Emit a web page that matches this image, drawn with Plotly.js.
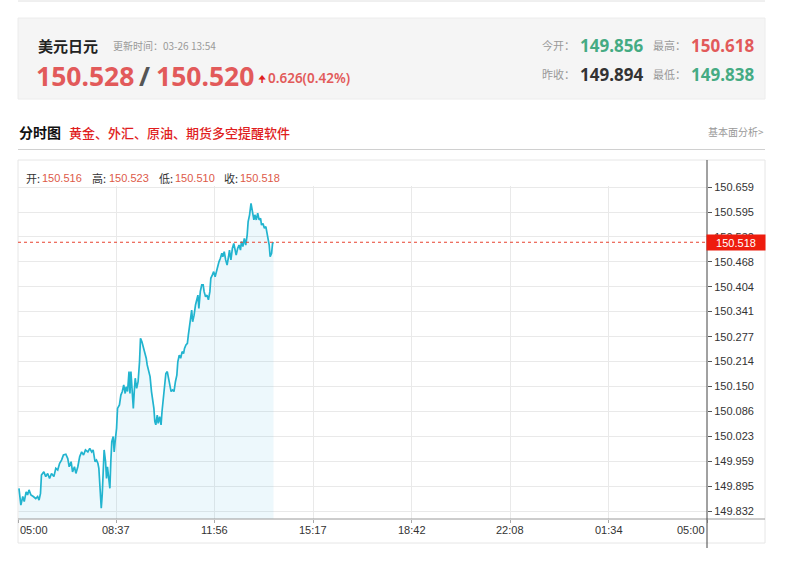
<!DOCTYPE html>
<html>
<head>
<meta charset="utf-8">
<script src="https://cdn.plot.ly/plotly-3.0.1.min.js"></script>
<style>
html,body{margin:0;padding:0;background:#fff;}
#chart{width:800px;height:566px;}
</style>
</head>
<body>
<div id="chart"></div>
<script>
// ---- data (minutes after 05:00, price) ----
const minutes = [2,6,10,13,17,20,23,27,32,37,41,44,47,49,54,58,62,66,70,75,79,83,87,91,95,100,104,107,111,114,118,121,125,129,133,137,141,146,150,154,157,161,164,167,169,172,174,176,178,180,183,185,187,190,192,194,196,199,201,203,206,208,212,215,218,221,224,226,229,232,234,236,238,241,243,245,248,251,254,256,259,262,265,268,270,273,276,279,281,284,286,288,291,293,296,299,301,304,307,309,312,315,318,320,323,326,329,332,334,337,340,343,346,348,351,354,356,359,361,363,365,368,371,373,376,378,381,384,387,389,392,395,398,401,403,406,409,412,415,417,420,423,426,428,431,434,437,440,442,445,448,451,454,456,459,462,465,467,470,473,476,479,481,484,487,490,493,495,498,501,504,507,509,512,515,518,520,523,525,527,530,532,534];
const prices = [149.890,149.847,149.869,149.856,149.881,149.873,149.886,149.873,149.869,149.864,149.869,149.860,149.877,149.924,149.932,149.920,149.928,149.915,149.928,149.920,149.941,149.937,149.954,149.962,149.975,149.977,149.966,149.945,149.958,149.932,149.945,149.928,149.945,149.971,149.983,149.975,149.988,149.983,149.992,149.983,149.988,149.958,149.962,149.954,149.941,149.881,149.839,149.873,149.932,149.988,149.958,149.915,149.945,149.898,149.890,149.958,150.009,150.022,149.983,150.009,150.043,150.094,150.103,150.128,150.137,150.154,150.132,150.149,150.137,150.188,150.132,150.188,150.145,150.094,150.137,150.171,150.145,150.162,150.213,150.273,150.264,150.251,150.239,150.222,150.205,150.192,150.175,150.137,150.120,150.094,150.060,150.052,150.077,150.056,150.073,150.052,150.086,150.128,150.162,150.183,150.188,150.171,150.154,150.137,150.141,150.137,150.162,150.179,150.213,150.230,150.222,150.239,150.234,150.247,150.256,150.260,150.281,150.315,150.332,150.345,150.315,150.332,150.358,150.366,150.383,150.349,150.392,150.409,150.409,150.392,150.379,150.383,150.371,150.392,150.426,150.434,150.443,150.430,150.447,150.456,150.468,150.477,150.490,150.481,150.494,150.473,150.460,150.481,150.498,150.473,150.502,150.515,150.498,150.485,150.502,150.511,150.498,150.520,150.507,150.528,150.511,150.537,150.571,150.588,150.617,150.592,150.575,150.588,150.575,150.592,150.575,150.579,150.562,150.566,150.554,150.558,150.545,150.528,150.511,150.481,150.490,150.515,150.518];

const yTickVals = [149.832,149.895,149.959,150.023,150.086,150.150,150.214,150.277,150.341,150.404,150.468,150.532,150.595,150.659];
const xTickLabels = ['05:00','08:37','11:56','15:17','18:42','22:08','01:34','05:00'];
const dayMinutes = 1440;

const symbolName = '美元日元';
const updateText = '更新时间：03-26 13:54';
const bidAsk = ['150.528','150.520'];
const changeText = '0.626(0.42%)';
const statLabels = ['今开：','最高：','昨收：','最低：'];
const statValues = ['149.856','150.618','149.894','149.838'];
const ohlcLabels = ['开:','高:','低:','收:'];
const ohlcValues = ['150.516','150.523','150.510','150.518'];
const lastPrice = 150.518;

// ---- layout helpers (pixel -> paper) ----
const L = 18, R = 707, T = 186, B = 519;
const X = p => (p - L) / (R - L);
const Y = p => (B - p) / (B - T);

const RED = '#e25a5a', GREEN = '#45ab83', DARK = '#333', GRAY = '#999';
const FONT = 'Noto Sans, Noto Sans CJK SC, sans-serif';
const CJK = 'Noto Sans CJK SC, sans-serif';

function ann(px, py, text, size, color, opts) {
  return Object.assign({
    x: X(px), y: Y(py), xref: 'paper', yref: 'paper', text: text,
    showarrow: false, xanchor: 'left', yanchor: 'middle',
    font: {size: size, color: color, family: FONT}
  }, opts || {});
}

const xTickVals = xTickLabels.map((_, i) => i * dayMinutes / (xTickLabels.length - 1));

const annotations = [
  ann(36, 45, symbolName, 15, '#222', {font: {size: 15, color: '#222', family: CJK, weight: 700}}),
  ann(111, 45, updateText, 10, GRAY, {font: {size: 10, color: GRAY, family: CJK}}),
  ann(34, 76, bidAsk[0], 26.5, RED, {font: {size: 26.5, color: RED, family: FONT, weight: 700}}),
  ann(137, 76, '/', 26.5, '#555', {font: {size: 26.5, color: '#555', family: FONT, weight: 700}}),
  ann(154, 76, bidAsk[1], 26.5, RED, {font: {size: 26.5, color: RED, family: FONT, weight: 700}}),
  ann(256, 78, '🠉', 10, '#e0201c', {font: {size: 10, color: '#e0201c', family: 'DejaVu Sans'}}),
  ann(266, 78, changeText, 13.5, RED, {font: {size: 13.5, color: RED, family: FONT, weight: 600}}),
  // stats
  ann(540, 45, statLabels[0], 11, GRAY, {font: {size: 11, color: GRAY, family: CJK}}),
  ann(578, 45, statValues[0], 17, GREEN, {font: {size: 17, color: GREEN, family: FONT, weight: 700}}),
  ann(651, 45, statLabels[1], 11, GRAY, {font: {size: 11, color: GRAY, family: CJK}}),
  ann(689, 45, statValues[1], 17, RED, {font: {size: 17, color: RED, family: FONT, weight: 700}}),
  ann(540, 74, statLabels[2], 11, GRAY, {font: {size: 11, color: GRAY, family: CJK}}),
  ann(578, 74, statValues[2], 17, DARK, {font: {size: 17, color: DARK, family: FONT, weight: 700}}),
  ann(651, 74, statLabels[3], 11, GRAY, {font: {size: 11, color: GRAY, family: CJK}}),
  ann(689, 74, statValues[3], 17, GREEN, {font: {size: 17, color: GREEN, family: FONT, weight: 700}}),
  // section title
  ann(17, 132, '分时图', 14, '#111', {font: {size: 14, color: '#111', family: CJK, weight: 700}}),
  ann(67, 132, '黄金、外汇、原油、期货多空提醒软件', 13, '#e01e1e', {font: {size: 13, color: '#e01e1e', family: CJK, weight: 500}}),
  ann(766, 131, '基本面分析>', 10, GRAY, {xanchor: 'right', font: {size: 10, color: GRAY, family: CJK}}),
  // last price tag
  ann(736, 242.5, lastPrice.toFixed(3), 11, '#fff', {xanchor: 'center', bgcolor: '#ee1c0e', width: 56, height: 13, borderpad: 1, font: {size: 11, color: '#fff', family: 'Liberation Sans'}})
];

// OHLC row
const ohlcX = [[24, 40], [90, 107], [157, 173], [222, 238]];
ohlcLabels.forEach((lab, i) => {
  annotations.push(ann(ohlcX[i][0], 178, lab, 11, DARK, {font: {size: 11, color: DARK, family: CJK}}));
  annotations.push(ann(ohlcX[i][1], 178, ohlcValues[i], 11, '#dd5a48', {font: {size: 11, color: '#dd5a48', family: 'Liberation Sans'}}));
});

// x tick labels
xTickLabels.forEach((lab, i) => {
  const anchor = i === 0 ? 'left' : (i === xTickLabels.length - 1 ? 'right' : 'center');
  annotations.push({
    x: xTickVals[i], xref: 'x', y: Y(530), yref: 'paper', text: lab, showarrow: false,
    xanchor: anchor, yanchor: 'middle', font: {size: 11, color: DARK, family: 'Liberation Sans'}
  });
});

const shapes = [
  {type: 'line', xref: 'paper', yref: 'paper', x0: X(18), x1: X(765), y0: Y(1), y1: Y(1), line: {color: '#e0e0e0', width: 1}},
  {type: 'rect', xref: 'paper', yref: 'paper', x0: X(18), x1: X(765), y0: Y(18), y1: Y(99), fillcolor: '#f5f5f5', line: {color: '#ececec', width: 1}, layer: 'below'},
  {type: 'line', xref: 'paper', yref: 'paper', x0: X(18), x1: X(765), y0: Y(149.5), y1: Y(149.5), line: {color: '#d0d0d0', width: 1}},
  {type: 'rect', xref: 'paper', yref: 'paper', x0: X(18), x1: X(765), y0: Y(160), y1: Y(543), line: {color: '#e6e6e6', width: 1}, layer: 'below'},
  {type: 'line', xref: 'paper', yref: 'paper', x0: X(18), x1: X(765), y0: Y(519), y1: Y(519), line: {color: '#9a9a9a', width: 1}},
  {type: 'line', xref: 'paper', yref: 'paper', x0: X(707), x1: X(707), y0: Y(160), y1: Y(548), line: {color: '#444', width: 1}},
  {type: 'line', xref: 'paper', yref: 'y', x0: 0, x1: 1, y0: lastPrice, y1: lastPrice, line: {color: '#e8412f', width: 1, dash: 'dot'}}
];

const trace = {
  x: minutes, y: prices, type: 'scatter', mode: 'lines',
  line: {color: '#22b4cf', width: 1.7},
  fill: 'tozeroy', fillcolor: 'rgba(80,190,225,0.1)',
  hoverinfo: 'skip'
};

const layout = {
  width: 800, height: 566,
  margin: {l: L, r: 800 - R, t: T, b: 566 - B, pad: 0},
  paper_bgcolor: '#fff', plot_bgcolor: '#fff',
  showlegend: false,
  xaxis: {
    range: [0, dayMinutes], tickvals: xTickVals, showticklabels: false,
    ticks: 'outside', ticklen: 3, tickcolor: '#aaa',
    showgrid: true, gridcolor: '#e9e9e9', gridwidth: 1, zeroline: false, showline: false, fixedrange: true
  },
  yaxis: {
    side: 'right', range: [149.8117, 150.6616], tickvals: yTickVals, tickformat: '.3f',
    ticks: 'outside', ticklen: 4, tickcolor: '#555',
    tickfont: {size: 11, color: DARK, family: 'Liberation Sans'},
    showgrid: true, gridcolor: '#e9e9e9', gridwidth: 1, zeroline: false, showline: false, fixedrange: true
  },
  annotations: annotations,
  shapes: shapes,
  hovermode: false
};

Plotly.newPlot('chart', [trace], layout, {staticPlot: true, displayModeBar: false});
</script>
</body>
</html>
